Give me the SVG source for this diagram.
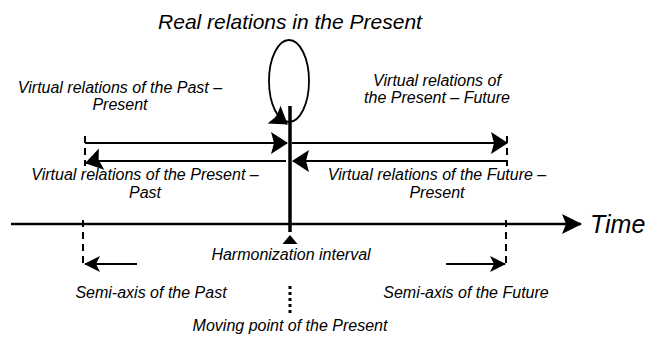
<svg xmlns="http://www.w3.org/2000/svg" width="646" height="338" viewBox="0 0 646 338">
<style>
.t{font-family:"Liberation Sans",Arial,sans-serif;font-style:italic;fill:#000;text-anchor:middle}
.l{font-size:16px}
.ln{stroke:#000;stroke-width:2;fill:none}
.dash{stroke:#000;stroke-width:2;fill:none;stroke-dasharray:7 5}
</style>
<defs>
<marker id="big" markerUnits="userSpaceOnUse" orient="auto" overflow="visible" markerWidth="1" markerHeight="1" refX="0" refY="0">
<path d="M1,0 L-16,-11 L-13,0 L-16,11 Z" fill="#000"/>
</marker>
<marker id="time" markerUnits="userSpaceOnUse" orient="auto" overflow="visible" markerWidth="1" markerHeight="1" refX="0" refY="0">
<path d="M1,0 L-19,-10 L-15,0 L-19,10 Z" fill="#000"/>
</marker>
<marker id="small" markerUnits="userSpaceOnUse" orient="auto" overflow="visible" markerWidth="1" markerHeight="1" refX="0" refY="0">
<path d="M1,0 L-15,-8 L-11,0 L-15,8 Z" fill="#000"/>
</marker>
</defs>

<g id="title"><text class="t" x="290" y="29" font-size="21">Real relations in the Present</text></g>

<g id="present-loop">
<ellipse cx="289" cy="81" rx="20" ry="41" fill="none" stroke="#000" stroke-width="1.8"/>
</g>

<g id="present-axis">
<line x1="290" y1="106" x2="290" y2="232" stroke="#000" stroke-width="3.5"/>
<polygon points="290,235 282.5,244 297.5,244" fill="#000"/>
</g>

<g id="time-axis">
<line x1="11" y1="224" x2="581" y2="224" stroke="#000" stroke-width="2.4" marker-end="url(#time)"/>
<text class="t" x="590" y="233" font-size="25" style="text-anchor:start">Time</text>
</g>

<g id="connectors">
<line x1="276" y1="116" x2="287" y2="124" class="ln" marker-end="url(#big)"/>
<line x1="85" y1="143" x2="287" y2="143" class="ln" marker-end="url(#big)"/>
<line x1="292" y1="143" x2="507" y2="143" class="ln" marker-end="url(#big)"/>
<line x1="286" y1="161" x2="92" y2="161" class="ln"/>
<line x1="98" y1="160" x2="86" y2="163" class="ln" marker-end="url(#big)"/>
<line x1="508" y1="161" x2="293" y2="161" class="ln" marker-end="url(#big)"/>
<line x1="85" y1="136" x2="85" y2="166" class="dash"/>
<line x1="507" y1="136" x2="507" y2="166" class="dash"/>
<line x1="83" y1="220" x2="83" y2="268" class="dash"/>
<line x1="506" y1="220" x2="506" y2="268" class="dash"/>
<line x1="137" y1="264" x2="85" y2="264" class="ln" marker-end="url(#small)"/>
<line x1="446" y1="264" x2="505" y2="264" class="ln" marker-end="url(#small)"/>
<line x1="290" y1="286" x2="290" y2="315" stroke="#000" stroke-width="3" stroke-dasharray="3 3"/>
</g>

<g id="labels">
<text class="t l" x="120" y="93">Virtual relations of the Past –</text>
<text class="t l" x="120" y="110">Present</text>
<text class="t l" x="437" y="86">Virtual relations of</text>
<text class="t l" x="437" y="103">the Present – Future</text>
<text class="t l" x="145" y="180">Virtual relations of the Present –</text>
<text class="t l" x="145" y="198">Past</text>
<text class="t l" x="437" y="180">Virtual relations of the Future –</text>
<text class="t l" x="437" y="198">Present</text>
<text class="t l" x="291" y="260">Harmonization interval</text>
<text class="t l" x="151" y="298">Semi-axis of the Past</text>
<text class="t l" x="466" y="298">Semi-axis of the Future</text>
<text class="t l" x="290" y="331">Moving point of the Present</text>
</g>
</svg>
